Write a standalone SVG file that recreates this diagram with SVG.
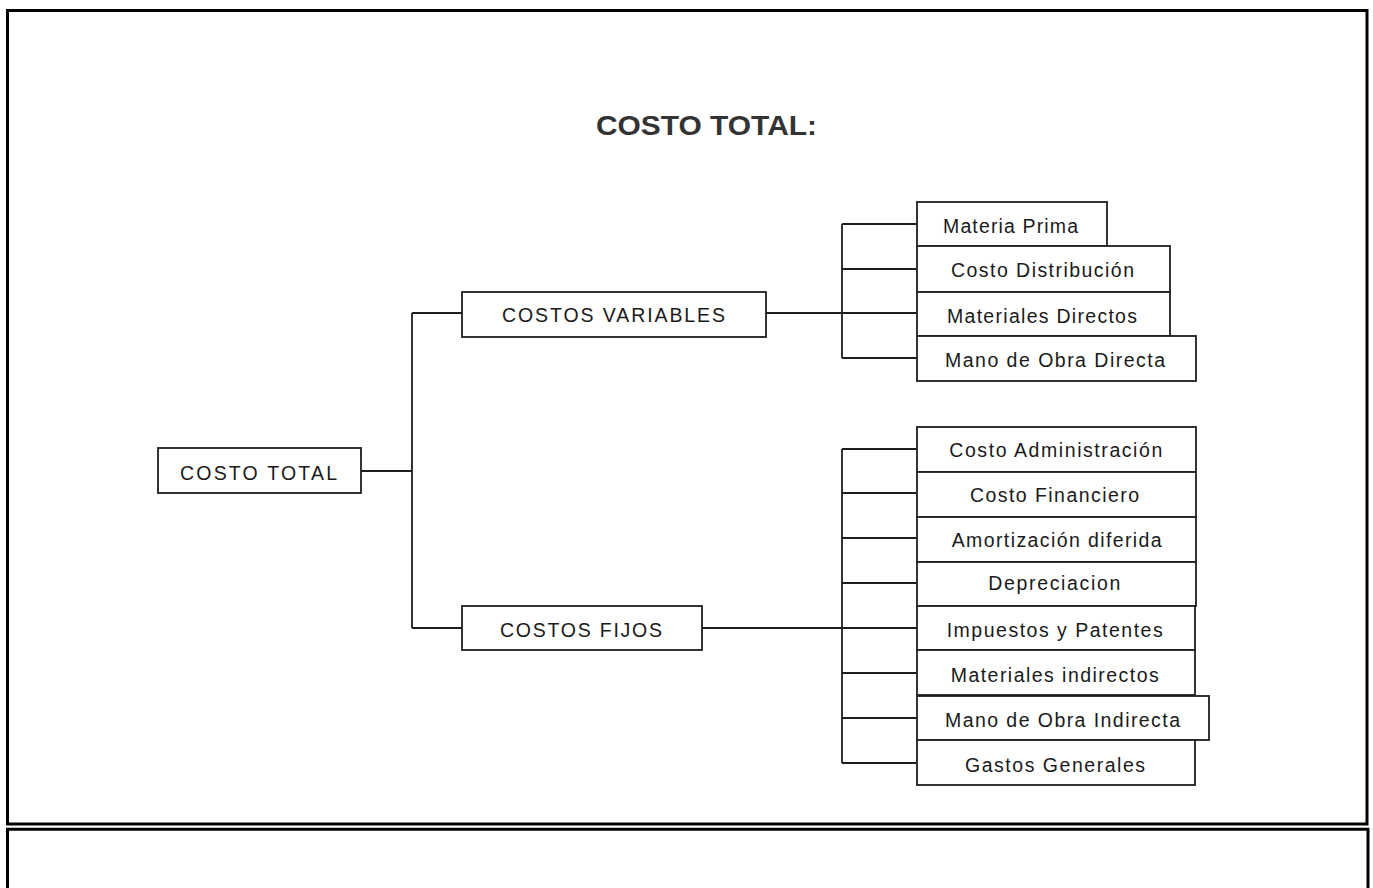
<svg xmlns="http://www.w3.org/2000/svg" width="1373" height="888" viewBox="0 0 1373 888">
<style>
.frame{fill:none;stroke:#000;stroke-width:3}
.box{fill:#fff;stroke:#1e1e1e;stroke-width:1.8}
.lbl{font-family:"Liberation Sans",Arial,sans-serif;font-size:19.5px;fill:#1a1a1a}
.ttl{font-family:"Liberation Sans",Arial,sans-serif;font-size:28px;font-weight:bold;fill:#333}
.con{fill:none;stroke:#1e1e1e;stroke-width:1.8}
</style>
<rect width="1373" height="888" fill="#fff"/>
<rect class="frame" x="7.5" y="10.5" width="1359.5" height="813.5"/>
<path class="frame" d="M7.5,900 V829.2 H1368 V900"/>
<text class="ttl" x="596" y="134.5" textLength="221" lengthAdjust="spacingAndGlyphs">COSTO TOTAL:</text>
<g id="connectors">
<path class="con" d="M361,471 H412 M412,313 V628 M412,313 H462 M412,628 H462"/>
<path class="con" d="M766,313 H917 M842,224 V358 M842,224 H917 M842,269 H917 M842,358 H917"/>
<path class="con" d="M702,628 H917 M842,449 V763 M842,449 H917 M842,493 H917 M842,538 H917 M842,583 H917 M842,673 H917 M842,718 H917 M842,763 H917"/>
</g>
<g id="costo-total"><rect class="box" x="158" y="448" width="203" height="45"/><text class="lbl" x="180" y="480" textLength="157" lengthAdjust="spacing">COSTO TOTAL</text></g>
<g id="costos-variables"><rect class="box" x="462" y="292" width="304" height="45"/><text class="lbl" x="502" y="321.5" textLength="223" lengthAdjust="spacing">COSTOS VARIABLES</text></g>
<g id="costos-fijos"><rect class="box" x="462" y="606" width="240" height="44"/><text class="lbl" x="500" y="636.5" textLength="162" lengthAdjust="spacing">COSTOS FIJOS</text></g>
<g id="materia-prima"><rect class="box" x="917" y="202" width="190" height="44"/><text class="lbl" x="943" y="233" textLength="135" lengthAdjust="spacing">Materia Prima</text></g>
<g id="costo-distribucion"><rect class="box" x="917" y="246" width="253" height="46"/><text class="lbl" x="951" y="277.3" textLength="183" lengthAdjust="spacing">Costo Distribución</text></g>
<g id="materiales-directos"><rect class="box" x="917" y="292" width="253" height="44"/><text class="lbl" x="947" y="322.7" textLength="190" lengthAdjust="spacing">Materiales Directos</text></g>
<g id="mano-obra-directa"><rect class="box" x="917" y="336" width="279" height="45"/><text class="lbl" x="945" y="367.3" textLength="220" lengthAdjust="spacing">Mano de Obra Directa</text></g>
<g id="costo-administracion"><rect class="box" x="917" y="427" width="279" height="45"/><text class="lbl" x="949.3" y="456.7" textLength="213" lengthAdjust="spacing">Costo Administración</text></g>
<g id="costo-financiero"><rect class="box" x="917" y="472" width="279" height="45"/><text class="lbl" x="970" y="501.7" textLength="169" lengthAdjust="spacing">Costo Financiero</text></g>
<g id="amortizacion-diferida"><rect class="box" x="917" y="517" width="279" height="45"/><text class="lbl" x="951.7" y="546.7" textLength="210" lengthAdjust="spacing">Amortización diferida</text></g>
<g id="depreciacion"><rect class="box" x="917" y="562" width="279" height="44"/><text class="lbl" x="988.3" y="590" textLength="132" lengthAdjust="spacing">Depreciacion</text></g>
<g id="impuestos-patentes"><rect class="box" x="917" y="606" width="278" height="44"/><text class="lbl" x="946.7" y="636.7" textLength="216" lengthAdjust="spacing">Impuestos y Patentes</text></g>
<g id="materiales-indirectos"><rect class="box" x="917" y="650" width="278" height="45"/><text class="lbl" x="950.7" y="681.7" textLength="208" lengthAdjust="spacing">Materiales indirectos</text></g>
<g id="mano-obra-indirecta"><rect class="box" x="917" y="696" width="292" height="44"/><text class="lbl" x="945" y="726.7" textLength="235" lengthAdjust="spacing">Mano de Obra Indirecta</text></g>
<g id="gastos-generales"><rect class="box" x="917" y="740" width="278" height="45"/><text class="lbl" x="965" y="771.7" textLength="180" lengthAdjust="spacing">Gastos Generales</text></g>
</svg>
